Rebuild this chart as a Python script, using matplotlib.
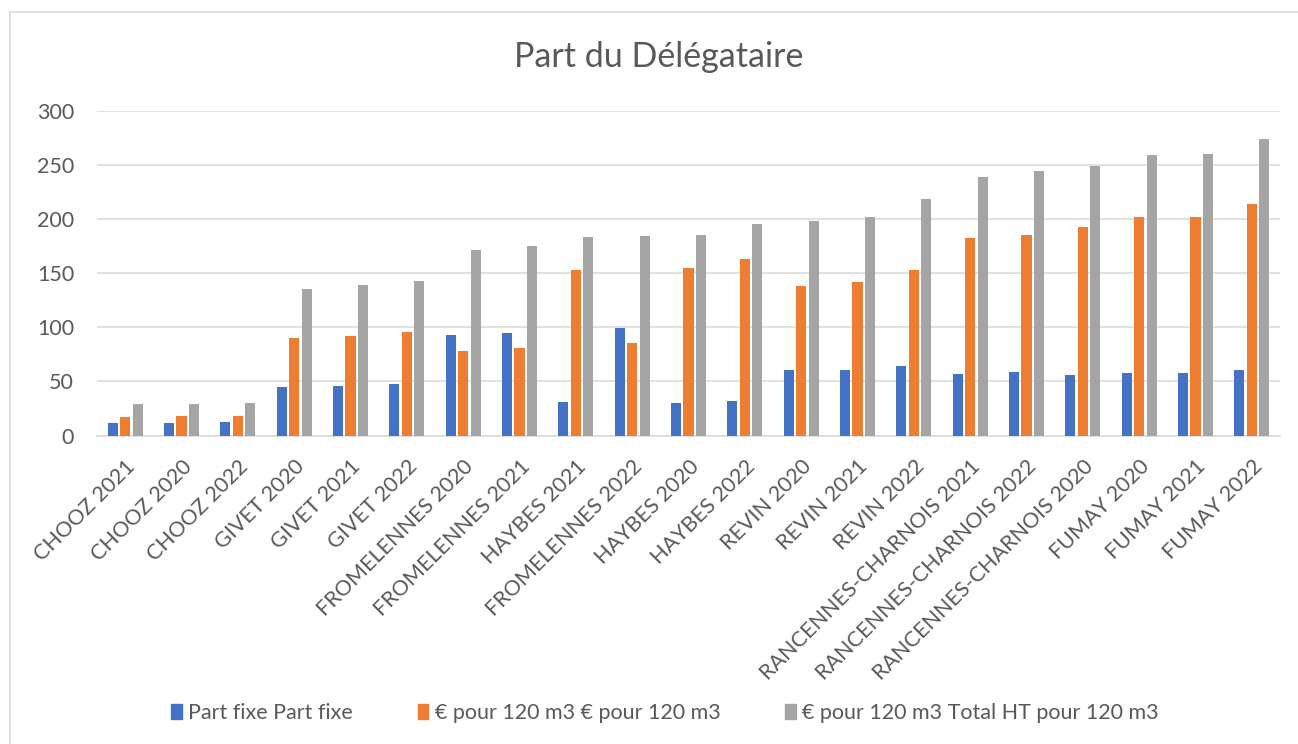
import numpy as np
import matplotlib.pyplot as plt
from matplotlib.lines import Line2D

plt.rcParams['font.family'] = ['Lato', 'DejaVu Sans']

# catégories et valeurs
categories = ['CHOOZ 2021', 'CHOOZ 2020', 'CHOOZ 2022', 'GIVET 2020', 'GIVET 2021',
              'GIVET 2022', 'FROMELENNES 2020', 'FROMELENNES 2021', 'HAYBES 2021',
              'FROMELENNES 2022', 'HAYBES 2020', 'HAYBES 2022', 'REVIN 2020',
              'REVIN 2021', 'REVIN 2022', 'RANCENNES-CHARNOIS 2021',
              'RANCENNES-CHARNOIS 2022', 'RANCENNES-CHARNOIS 2020', 'FUMAY 2020',
              'FUMAY 2021', 'FUMAY 2022']
part_fixe = [11.7, 11.4, 12.3, 45.0, 46.2, 47.7, 93.0, 94.6, 30.8, 99.2, 30.5,
             32.3, 60.1, 60.4, 64.7, 56.7, 58.5, 55.7, 57.6, 57.9, 60.4]
pour_120 = [17.2, 17.6, 18.2, 90.6, 92.4, 95.5, 78.2, 80.7, 152.8, 85.3, 154.9,
            163.5, 138.3, 142.0, 153.4, 183.0, 185.7, 193.1, 202.0, 202.4, 214.1]
total_ht = [29.0, 29.3, 30.2, 135.8, 138.9, 143.2, 171.2, 175.3, 183.9, 184.8, 185.4,
            195.9, 198.4, 202.4, 218.7, 239.3, 244.6, 249.2, 259.6, 260.6, 274.4]
series_names = ['Part fixe Part fixe', '€ pour 120 m3 € pour 120 m3',
                '€ pour 120 m3 Total HT pour 120 m3']
colors = ['#4472C4', '#ED7D31', '#A5A5A5']

W, H = 1298, 744
fig = plt.figure(figsize=(W / 100, H / 100), dpi=100)

# cadre du graphique (haut et gauche visibles)
fig.add_artist(Line2D([10 / W, 10 / W], [0, 1 - 12 / H], color='#d9d9d9', lw=1.2))
fig.add_artist(Line2D([10 / W, 1], [1 - 12 / H, 1 - 12 / H], color='#d9d9d9', lw=1.2))

ax = fig.add_axes([97 / W, (H - 435.5) / H, (1280 - 97) / W, (435.5 - 111) / H])

x = np.arange(len(categories))
w = 0.18
step = 0.222
for i, vals in enumerate([part_fixe, pour_120, total_ht]):
    ax.bar(x + (i - 1) * step, vals, width=w, color=colors[i], zorder=3)

ax.set_xlim(-0.5, len(categories) - 0.5)
ax.set_ylim(0, 300)
ax.set_yticks(range(0, 301, 50))
ax.yaxis.grid(True, color='#d9d9d9', lw=1.1, zorder=0)
for s in ['top', 'right', 'left']:
    ax.spines[s].set_visible(False)
ax.spines['bottom'].set_color('#d9d9d9')
ax.spines['bottom'].set_linewidth(1.1)
ax.tick_params(axis='y', length=0, pad=16.5, labelsize=15.5, labelcolor='#595959')
ax.tick_params(axis='x', length=0, pad=15, labelsize=15.5, labelcolor='#595959')
ax.set_xticks(x)
ax.set_xticklabels(categories, rotation=45, ha='right', va='top', rotation_mode='anchor')

fig.text(659 / W, 1 - 57 / H, 'Part du Délégataire', ha='center', va='center',
         fontsize=24.5, color='#595959')

handles = [plt.Rectangle((0, 0), 1, 1, color=c) for c in colors]
fig.legend(handles, series_names, loc='center', bbox_to_anchor=(665 / W, 1 - 713 / H),
           ncol=3, frameon=False, fontsize=15.5, labelcolor='#595959',
           handlelength=0.5, handleheight=0.7, handletextpad=0.3, columnspacing=3.0)

fig.savefig('out.png', dpi=100)
